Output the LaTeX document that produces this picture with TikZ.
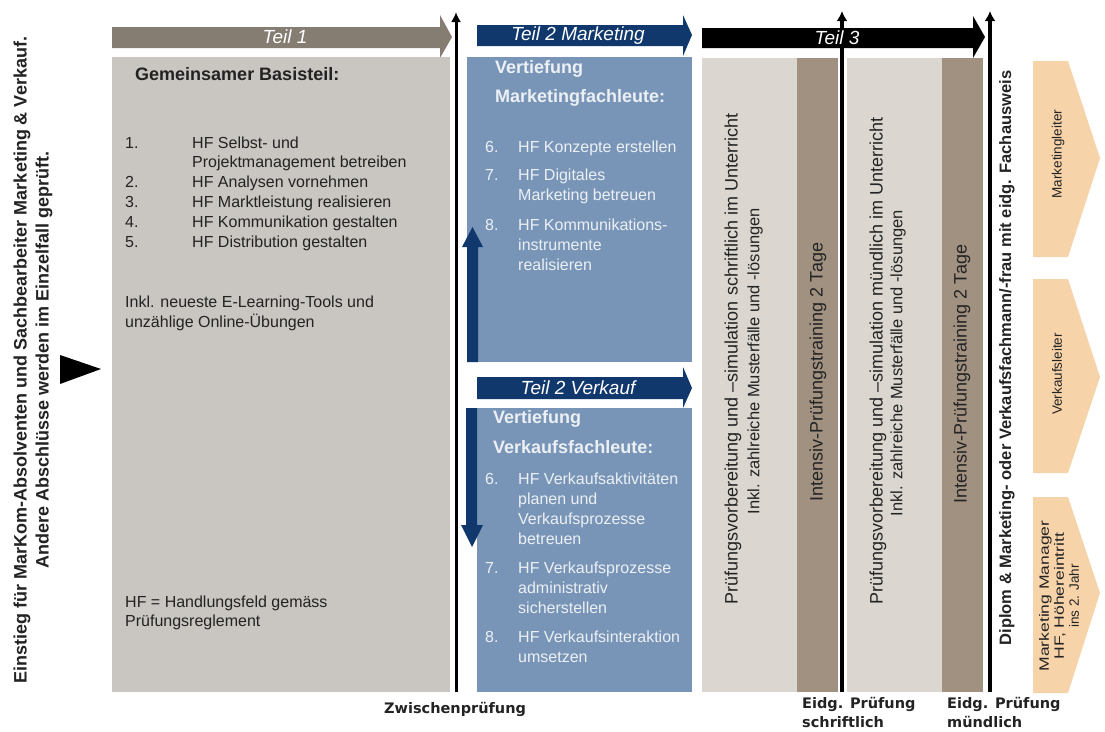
\documentclass[tikz,border=0pt]{standalone}
\usepackage{fontspec}
\setmainfont{Liberation Sans}
\newfontfamily\dejavu{DejaVu Sans}
\usetikzlibrary{arrows.meta}
\definecolor{teilone}{RGB}{133,124,114}
\definecolor{boxgray}{RGB}{201,197,192}
\definecolor{navy}{RGB}{16,56,108}
\definecolor{steel}{RGB}{120,149,183}
\definecolor{lightbox}{RGB}{219,215,208}
\definecolor{brownbox}{RGB}{161,145,128}
\definecolor{peach}{RGB}{247,211,170}
\definecolor{txtgray}{RGB}{35,35,35}
\definecolor{bluetxt}{RGB}{236,240,245}
\begin{document}
\begin{tikzpicture}[x=1pt,y=-1pt,
  lbl/.style={inner sep=0,anchor=base west,text=txtgray,font=\fontsize{16}{19}\selectfont},
  head/.style={lbl,font=\fontsize{18}{21}\selectfont\bfseries},
  blbl/.style={lbl,text=bluetxt},
  bhead/.style={head,text=bluetxt},
  teil/.style={inner sep=0,text=white,font=\fontsize{19}{21}\selectfont\itshape},
  vtxt/.style={rotate=90,inner sep=0,text=txtgray,font=\fontsize{18}{21}\selectfont},
  vsub/.style={vtxt,font=\fontsize{16.5}{19}\selectfont},
  otxt/.style={rotate=90,inner sep=0,text=txtgray,align=center,font=\fontsize{13.5}{15}\selectfont},
  bottomlbl/.style={inner sep=0,anchor=base west,align=left,text=txtgray,font=\dejavu\bfseries\fontsize{14.5}{19}\selectfont},
  vline/.style={line width=3pt,-{Latex[length=10pt,width=10pt]}},
  vlinethick/.style={line width=4pt,-{Latex[length=10pt,width=11pt]}}
]
\useasboundingbox (0,0) rectangle (1105,731);
\fill[white] (0,0) rectangle (1105,731);

% left entry text and triangle
\node[rotate=90,inner sep=0,align=center,text=txtgray,font=\fontsize{18}{22}\selectfont\bfseries] (entry) at (33,360)
  {Einstieg für MarKom-Absolventen und Sachbearbeiter Marketing \& Verkauf.\\Andere Abschlüsse werden im Einzelfall geprüft.};
\fill[black] (60,355) -- (101,369) -- (60,384) -- cycle;

% Teil 1
\fill[teilone] (112,27) -- (440,27) -- (440,15) -- (452,37) -- (440,58) -- (440,48) -- (112,48) -- cycle;
\node[teil] (t1) at (285,37) {Teil 1};
\fill[boxgray] (112,57) rectangle (450,692);
\node[head] (basis) at (135,80) {Gemeinsamer Basisteil:};
\foreach \n/\t/\y in {1./HF Selbst- und/148, /Projektmanagement betreiben/167, 2./HF Analysen vornehmen/187,
  3./HF Marktleistung realisieren/207, 4./HF Kommunikation gestalten/227, 5./HF Distribution gestalten/247}{
  \node[lbl] at (125,\y) {\n};
  \node[lbl] at (192,\y) {\t};
}
\node[lbl] (inkl1) at (125,307) {Inkl. neueste E-Learning-Tools und};
\node[lbl] (inkl2) at (125,327) {unzählige Online-Übungen};
\node[lbl] (hf1) at (125,607) {HF = Handlungsfeld gemäss};
\node[lbl] (hf2) at (125,626) {Prüfungsreglement};

% Zwischenpruefung arrow
\coordinate (z1b) at (456,692);
\coordinate (z1t) at (456,12);
\draw[vline] (z1b) -- (z1t);
\node[bottomlbl] (zw) at (384,713) {Zwischenprüfung};

% Teil 2 Marketing
\fill[navy] (477,25) -- (683,25) -- (683,15) -- (692,35) -- (683,56) -- (683,46) -- (477,46) -- cycle;
\node[teil] (t2m) at (578,36) {Teil 2 Marketing};
\fill[steel] (467,57) rectangle (692,362);
\fill[navy] (467,362) -- (467,247) -- (462,247) -- (472.5,227) -- (483,247) -- (478,247) -- (478,362) -- cycle;
\node[bhead] (vm1) at (495,73) {Vertiefung};
\node[bhead] (vm2) at (495,102) {Marketingfachleute:};
\node[blbl] at (485,152) {6.};
\node[blbl] at (518,152) {HF Konzepte erstellen};
\node[blbl] at (485,180) {7.};
\node[blbl] at (518,180) {HF Digitales};
\node[blbl] at (518,200) {Marketing betreuen};
\node[blbl] at (485,230) {8.};
\node[blbl] at (518,230) {HF Kommunikations-};
\node[blbl] at (518,250) {instrumente};
\node[blbl] at (518,270) {realisieren};

% Teil 2 Verkauf
\fill[navy] (477,377) -- (683,377) -- (683,367) -- (692,388) -- (683,408) -- (683,399) -- (477,399) -- cycle;
\node[teil] (t2v) at (578,388) {Teil 2 Verkauf};
\fill[steel] (477,408) rectangle (692,692);
\fill[navy] (466,408) -- (466,525) -- (461,525) -- (472,547) -- (483,525) -- (477,525) -- (477,408) -- cycle;
\node[bhead] (vv1) at (493,423) {Vertiefung};
\node[bhead] (vv2) at (493,453) {Verkaufsfachleute:};
\node[blbl] at (485,484) {6.};
\node[blbl] at (518,484) {HF Verkaufsaktivitäten};
\node[blbl] at (518,504) {planen und};
\node[blbl] at (518,524) {Verkaufsprozesse};
\node[blbl] at (518,544) {betreuen};
\node[blbl] at (485,573) {7.};
\node[blbl] at (518,573) {HF Verkaufsprozesse};
\node[blbl] at (518,593) {administrativ};
\node[blbl] at (518,613) {sicherstellen};
\node[blbl] at (485,642) {8.};
\node[blbl] at (518,642) {HF Verkaufsinteraktion};
\node[blbl] at (518,662) {umsetzen};

% Teil 3
\fill[black] (702,28) -- (973,28) -- (973,16) -- (985,37) -- (973,58) -- (973,48) -- (702,48) -- cycle;
\fill[lightbox] (702,58) rectangle (797,692);
\fill[brownbox] (797,58) rectangle (838,692);
\fill[lightbox] (847,58) rectangle (942,692);
\fill[brownbox] (942,58) rectangle (983,692);
\node[vtxt] (p1) at (733,359) {Prüfungsvorbereitung und –simulation schriftlich im Unterricht};
\node[vsub] (p1s) at (755,361) {Inkl. zahlreiche Musterfälle und -lösungen};
\node[vtxt] (i1) at (818,372) {Intensiv-Prüfungstraining 2 Tage};
\node[vtxt] (p2) at (878,361) {Prüfungsvorbereitung und –simulation mündlich im Unterricht};
\node[vsub] (p2s) at (898,363) {Inkl. zahlreiche Musterfälle und -lösungen};
\node[vtxt] (i2) at (962,374) {Intensiv-Prüfungstraining 2 Tage};
\coordinate (e1b) at (842,692);
\coordinate (e1t) at (842,11);
\draw[vlinethick] (e1b) -- (e1t);
\node[teil] (t3) at (837,38) {Teil 3};
\coordinate (e2b) at (990,692);
\coordinate (e2t) at (990,11);
\draw[vlinethick] (e2b) -- (e2t);
\node[vtxt,font=\fontsize{16.5}{20}\selectfont\bfseries] (dip) at (1007,358)
  {Diplom \& Marketing- oder Verkaufsfachmann/-frau mit eidg. Fachausweis};
\node[bottomlbl] (eps) at (802,708) {Eidg. Prüfung};
\node[bottomlbl] at (802,727) {schriftlich};
\node[bottomlbl] (epm) at (947,708) {Eidg. Prüfung};
\node[bottomlbl] at (947,727) {mündlich};

% career arrows
\fill[peach] (1033,61) -- (1068,61) -- (1100,158) -- (1068,257) -- (1033,257) -- cycle;
\fill[peach] (1033,279) -- (1068,279) -- (1100,377) -- (1068,473) -- (1033,473) -- cycle;
\fill[peach] (1033,497) -- (1068,497) -- (1100,593) -- (1068,693) -- (1033,693) -- cycle;
\node[otxt] (ml) at (1058,154) {Marketingleiter};
\node[otxt] (vl) at (1057,374) {Verkaufsleiter};
\node[otxt] (mm) at (1059,596) {\scalebox{1.3}[1]{Marketing Manager}\\\scalebox{1.3}[1]{HF, Höhereintritt}\\ins 2. Jahr};
\end{tikzpicture}
\end{document}
